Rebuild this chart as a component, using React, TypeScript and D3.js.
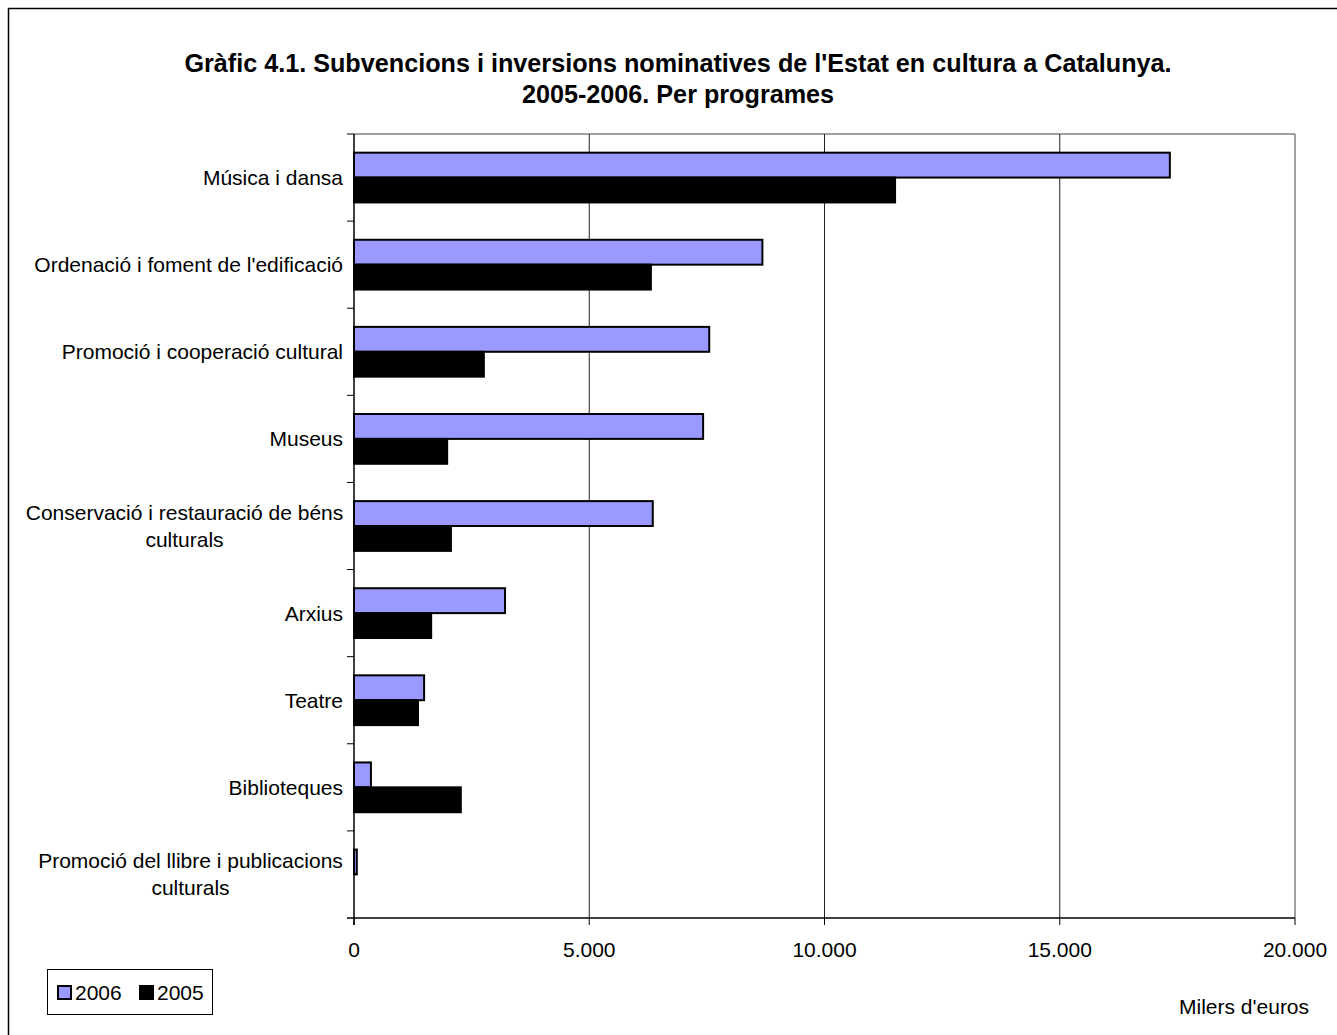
import React from 'react';
import * as d3 from 'd3';

const categories = [
  "Música i dansa",
  "Ordenació i foment de l'edificació",
  "Promoció i cooperació cultural",
  "Museus",
  "Conservació i restauració de béns culturals",
  "Arxius",
  "Teatre",
  "Biblioteques",
  "Promoció del llibre i publicacions culturals",
];
// two-line labels as in the reference
const labelLines = [
  ["Música i dansa"],
  ["Ordenació i foment de l'edificació"],
  ["Promoció i cooperació cultural"],
  ["Museus"],
  ["Conservació i restauració de béns", "culturals"],
  ["Arxius"],
  ["Teatre"],
  ["Biblioteques"],
  ["Promoció del llibre i publicacions", "culturals"],
];
const values2006 = [17340, 8680, 7550, 7420, 6350, 3210, 1490, 360, 60];
const values2005 = [11500, 6310, 2760, 1980, 2060, 1640, 1360, 2270, 0];
const series = ["2006", "2005"];
const colors = { "2006": "#9999FF", "2005": "#000000" };
const xTicks = [0, 5000, 10000, 15000, 20000];

const W = 1337, H = 1035;
const margin = { top: 134, right: 42, bottom: 117, left: 354 };

export default function App() {
  const x = d3.scaleLinear().domain([0, 20000]).range([margin.left, W - margin.right]);
  const y = d3.scaleBand().domain(categories).range([margin.top, H - margin.bottom]);
  const bw = y.bandwidth() / 3.5;
  const inner = d3.scaleBand().domain(series).range([0, 2 * bw]);
  const fmt = (v: number) => d3.format(",")(v).replace(/,/g, ".");
  const font = "Arial, 'Liberation Sans', sans-serif";
  const y0 = margin.top, y1 = H - margin.bottom;
  const x0 = margin.left, x1 = W - margin.right;
  const fs = 21;

  return (
    <svg width={W} height={H} style={{ position: 'absolute', left: 0, top: 0 }} fontFamily={font}>
      <rect x={8.5} y={8.5} width={W + 10} height={H + 10} fill="white" stroke="#000" strokeWidth={1.5} />
      <text x={678} y={72} textAnchor="middle" fontSize={25.2} fontWeight="bold">
        Gràfic 4.1. Subvencions i inversions nominatives de l'Estat en cultura a Catalunya.
      </text>
      <text x={678} y={103} textAnchor="middle" fontSize={25.2} fontWeight="bold">2005-2006. Per programes</text>

      {/* plot frame and gridlines */}
      <line x1={x0} x2={x1} y1={y0} y2={y0} stroke="#808080" strokeWidth={1.5} />
      <line x1={x1} x2={x1} y1={y0} y2={y1} stroke="#808080" strokeWidth={1.5} />
      {xTicks.slice(1, -1).map(t => (
        <line key={t} x1={x(t)} x2={x(t)} y1={y0} y2={y1} stroke="#222" strokeWidth={1} />
      ))}

      {categories.map((c, i) => (
        <g key={c}>
          {series.map(s => {
            const v = s === "2006" ? values2006[i] : values2005[i];
            if (v <= 0) return null;
            return (
              <rect key={s} x={x(0)} y={(y(c) as number) + (y.bandwidth() - 2 * bw) / 2 + (inner(s) as number)}
                width={x(v) - x(0)} height={bw} fill={colors[s]} stroke="#000" strokeWidth={2} />
            );
          })}
        </g>
      ))}

      {/* axes */}
      <line x1={x0} x2={x0} y1={y0} y2={y1 + 7} stroke="#000" strokeWidth={1.5} />
      <line x1={x0 - 7} x2={x1} y1={y1} y2={y1} stroke="#000" strokeWidth={1.5} />
      {categories.map(c => (
        <line key={c} x1={x0 - 7} x2={x0} y1={y(c)} y2={y(c)} stroke="#000" strokeWidth={1} />
      ))}
      {xTicks.map(t => (
        <g key={t}>
          <line x1={x(t)} x2={x(t)} y1={y1} y2={y1 + 7} stroke="#000" strokeWidth={1} />
          <text x={x(t)} y={957} textAnchor="middle" fontSize={fs}>{fmt(t)}</text>
        </g>
      ))}

      {/* category labels */}
      {categories.map((c, i) => {
        const lines = labelLines[i];
        const cy = (y(c) as number) + y.bandwidth() / 2;
        const lh = 27;
        return (
          <text key={c} fontSize={fs} textAnchor={lines.length > 1 ? "middle" : "end"}>
            {lines.map((l, j) => (
              <tspan key={j} x={lines.length > 1 ? (i === 4 ? 184.5 : 190.5) : 343}
                y={cy + 7.5 + (j - (lines.length - 1) / 2) * lh}>{l}</tspan>
            ))}
          </text>
        );
      })}

      {/* legend */}
      <rect x={47.5} y={969.5} width={165} height={45} fill="white" stroke="#000" strokeWidth={1} />
      {series.map((s, i) => (
        <g key={s} transform={`translate(${58 + i * 82},986)`}>
          <rect x={0} y={0} width={13} height={13} fill={colors[s]} stroke="#000" strokeWidth={2} />
          <text x={17} y={14} fontSize={fs}>{s}</text>
        </g>
      ))}
      <text x={1179} y={1014} fontSize={fs}>Milers d'euros</text>
    </svg>
  );
}
